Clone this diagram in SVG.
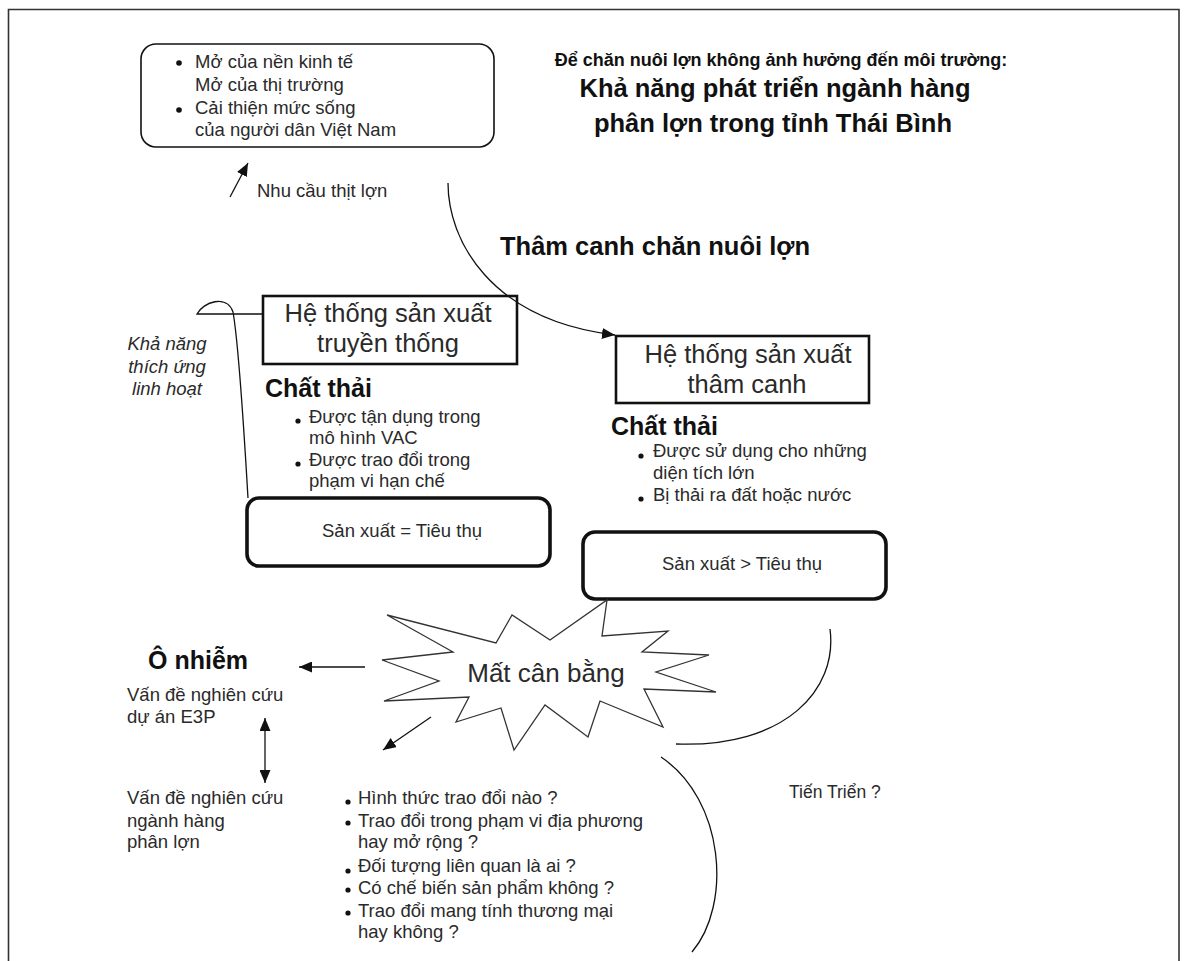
<svg xmlns="http://www.w3.org/2000/svg" width="1185" height="961" viewBox="0 0 1185 961">
<style>
text{font-family:"Liberation Sans",Arial,sans-serif;fill:#2a2a2a}
.b{font-weight:bold;fill:#111}
.t{font-size:18.5px}
.box{fill:none;stroke:#111}
.ln{fill:none;stroke:#111;stroke-width:1.3}
.dot{fill:#111}
</style>
<defs>
<marker id="ah" markerWidth="13" markerHeight="11" refX="13" refY="5.5" orient="auto-start-reverse" markerUnits="userSpaceOnUse"><path d="M0,0 L13,5.5 L0,11 z" fill="#111"/></marker>
</defs>
<rect x="0" y="0" width="1185" height="961" fill="#fff"/>
<path d="M8.5,970 V9.5 H1179 V970" fill="none" stroke="#333" stroke-width="1.6"/>

<g id="title">
<text class="b" x="781" y="66" text-anchor="middle" font-size="18">Để chăn nuôi lợn không ảnh hưởng đến môi trường:</text>
<text class="b" x="775" y="97" text-anchor="middle" font-size="25.5">Khả năng phát triển ngành hàng</text>
<text class="b" x="773" y="132" text-anchor="middle" font-size="25.5">phân lợn trong tỉnh Thái Bình</text>
</g>

<g id="context">
<rect class="box" x="141" y="44" width="353" height="103" rx="15" stroke-width="1.6"/>
<circle class="dot" cx="179" cy="63" r="2.8"/>
<circle class="dot" cx="179" cy="110" r="2.8"/>
<text class="t" x="195" y="68">Mở của nền kinh tế</text>
<text class="t" x="195" y="91">Mở của thị trường</text>
<text class="t" x="195" y="114">Cải thiện mức sống</text>
<text class="t" x="195" y="136">của người dân Việt Nam</text>
</g>

<g id="demand">
<text class="t" x="257" y="197">Nhu cầu thịt lợn</text>
</g>

<g id="intensify-label">
<text class="b" x="500" y="255" font-size="25.5">Thâm canh chăn nuôi lợn</text>
</g>

<g id="adapt">
<text class="t" x="167" y="350" text-anchor="middle" font-style="italic">Khả năng</text>
<text class="t" x="167" y="373" text-anchor="middle" font-style="italic">thích ứng</text>
<text class="t" x="167" y="395" text-anchor="middle" font-style="italic">linh hoạt</text>
</g>

<g id="traditional">
<rect class="box" x="263" y="296" width="254" height="68" stroke-width="2.6"/>
<text x="388" y="322" text-anchor="middle" font-size="25.5">Hệ thống sản xuất</text>
<text x="388" y="352" text-anchor="middle" font-size="25.5">truyền thống</text>
</g>

<g id="waste-traditional">
<text class="b" x="265" y="397" font-size="25">Chất thải</text>
<circle class="dot" cx="298" cy="421" r="2.6"/>
<circle class="dot" cx="298" cy="464" r="2.6"/>
<text class="t" x="309" y="423">Được tận dụng trong</text>
<text class="t" x="309" y="444">mô hình VAC</text>
<text class="t" x="309" y="466">Được trao đổi trong</text>
<text class="t" x="309" y="487">phạm vi hạn chế</text>
</g>

<g id="balance-traditional">
<rect class="box" x="247" y="498" width="303" height="68" rx="12" stroke-width="3.6"/>
<text class="t" x="402" y="537" text-anchor="middle">Sản xuất = Tiêu thụ</text>
</g>

<g id="intensive">
<rect class="box" x="616" y="336" width="253" height="67" stroke-width="2.6"/>
<text x="748" y="363" text-anchor="middle" font-size="25.5">Hệ thống sản xuất</text>
<text x="747" y="393" text-anchor="middle" font-size="25.5">thâm canh</text>
</g>

<g id="waste-intensive">
<text class="b" x="611" y="435" font-size="25">Chất thải</text>
<circle class="dot" cx="641" cy="456" r="2.6"/>
<circle class="dot" cx="641" cy="499" r="2.6"/>
<text class="t" x="653" y="457">Được sử dụng cho những</text>
<text class="t" x="653" y="479">diện tích lớn</text>
<text class="t" x="653" y="501">Bị thải ra đất hoặc nước</text>
</g>

<g id="balance-intensive">
<rect class="box" x="583" y="532" width="303" height="67" rx="12" stroke-width="3.6"/>
<text class="t" x="742" y="570" text-anchor="middle">Sản xuất &gt; Tiêu thụ</text>
</g>

<g id="imbalance">
<polygon points="387,615 496,643 512,615 550,640 607,600 602,636 668,631 642,652 709,655 656,672 716,692 644,689 663,727 600,701 588,737 545,705 514,750 501,708 456,722 469,697 384,701 439,681 382,660 453,652" fill="#fff" stroke="#333" stroke-width="1.3"/>
<text x="546" y="682" text-anchor="middle" font-size="26">Mất cân bằng</text>
</g>

<g id="pollution">
<text class="b" x="148" y="669" font-size="25">Ô nhiễm</text>
<text class="t" x="127" y="701">Vấn đề nghiên cứu</text>
<text class="t" x="127" y="723">dự án E3P</text>
</g>

<g id="research">
<text class="t" x="127" y="804">Vấn đề nghiên cứu</text>
<text class="t" x="127" y="827">ngành hàng</text>
<text class="t" x="127" y="848">phân lợn</text>
</g>

<g id="questions">
<circle class="dot" cx="348" cy="802" r="2.6"/>
<circle class="dot" cx="348" cy="823" r="2.6"/>
<circle class="dot" cx="348" cy="871" r="2.6"/>
<circle class="dot" cx="348" cy="890" r="2.6"/>
<circle class="dot" cx="348" cy="913" r="2.6"/>
<text class="t" x="358" y="804">Hình thức trao đổi nào ?</text>
<text class="t" x="358" y="827">Trao đổi trong phạm vi địa phương</text>
<text class="t" x="358" y="848">hay mở rộng ?</text>
<text class="t" x="358" y="872">Đối tượng liên quan là ai ?</text>
<text class="t" x="358" y="894">Có chế biến sản phẩm không ?</text>
<text class="t" x="358" y="917">Trao đổi mang tính thương mại</text>
<text class="t" x="358" y="938">hay không ?</text>
</g>

<g id="progress">
<text x="789" y="798" font-size="17.5">Tiến Triển ?</text>
</g>

<g id="connectors">
<path class="ln" d="M230,197 L248,163" marker-end="url(#ah)"/>
<path class="ln" d="M448,183 C448,240 490,320 615,335" marker-end="url(#ah)"/>
<path class="ln" d="M263,314 L197,314 C203,302 227,294 233,312 C238,340 244,430 248,498"/>
<path class="ln" d="M365,667 L299,667" marker-end="url(#ah)"/>
<path class="ln" d="M265,718 L265,783" marker-start="url(#ah)" marker-end="url(#ah)"/>
<path class="ln" d="M431,717 L383,750" marker-end="url(#ah)"/>
<path class="ln" d="M830,629 C838,690 785,748 676,744"/>
<path class="ln" d="M661,757 C725,800 732,905 692,952"/>
</g>
</svg>
